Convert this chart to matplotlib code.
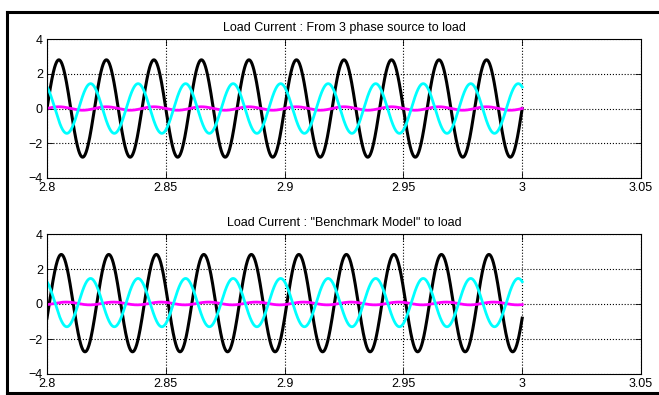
import matplotlib
matplotlib.use('Agg')
import matplotlib.pyplot as plt
from matplotlib.lines import Line2D
import numpy as np

plt.rcParams['font.family'] = ['Liberation Sans', 'DejaVu Sans']

# time window of the traces (s) and line frequency (Hz)
t_start = 2.8
t_end = 3.0
freq = 50.0

panel_titles = ['Load Current : From 3 phase source to load',
                'Load Current : "Benchmark Model" to load']

# per panel: amplitude (A), phase (deg), dc offset (A)
black_amp = [2.80, 2.78]
black_phase = [0, -18]
black_offset = [0.0, 0.05]

cyan_amp = [1.43, 1.38]
cyan_phase = [120, 120]
cyan_offset = [0.0, 0.08]

magenta_amp = [0.10, 0.08]
magenta_phase = [0, -54]
magenta_offset = [0.0, 0.03]

xticks = [2.8, 2.85, 2.9, 2.95, 3.0, 3.05]
xtick_labels = ['2.8', '2.85', '2.9', '2.95', '3', '3.05']
yticks = [-4, -2, 0, 2, 4]

t = np.arange(t_start, t_end + 1e-5, 1e-4)


def trace(amp, phase, offset):
    return offset + amp * np.sin(2 * np.pi * freq * t + np.deg2rad(phase))


fig = plt.figure(figsize=(6.59, 3.95), dpi=100)

# window frame
fig.add_artist(Line2D([7 / 659, 7 / 659], [1 - 12 / 395, 1 - 393 / 395],
                      transform=fig.transFigure, color='black', lw=2.2))
fig.add_artist(Line2D([7 / 659, 1.0], [1 - 12 / 395, 1 - 12 / 395],
                      transform=fig.transFigure, color='black', lw=2.2))
fig.add_artist(Line2D([7 / 659, 1.0], [1 - 393 / 395, 1 - 393 / 395],
                      transform=fig.transFigure, color='black', lw=2.2))

rects = [[47 / 659, 1 - 178 / 395, 594 / 659, 139 / 395],
         [47 / 659, 1 - 374 / 395, 594 / 659, 140 / 395]]

for i in range(2):
    ax = fig.add_axes(rects[i])
    ax.plot(t, trace(black_amp[i], black_phase[i], black_offset[i]),
            color='black', lw=2.2)
    ax.plot(t, trace(magenta_amp[i], magenta_phase[i], magenta_offset[i]),
            color='#ff00ff', lw=2.0)
    ax.plot(t, trace(cyan_amp[i], cyan_phase[i], cyan_offset[i]),
            color='#00ffff', lw=2.0)

    ax.set_xlim(2.8, 3.05)
    ax.set_ylim(-4, 4)
    ax.set_xticks(xticks)
    ax.set_xticklabels(xtick_labels)
    ax.set_yticks(yticks)
    ax.tick_params(direction='in', length=4, width=0.6, labelsize=9,
                   top=True, right=True, pad=3)
    ax.grid(True, color='black', linestyle=':', linewidth=0.8)
    for s in ax.spines.values():
        s.set_linewidth(0.8)
    ax.set_title(panel_titles[i], fontsize=9, pad=6)

fig.savefig('out.png', dpi=100)
